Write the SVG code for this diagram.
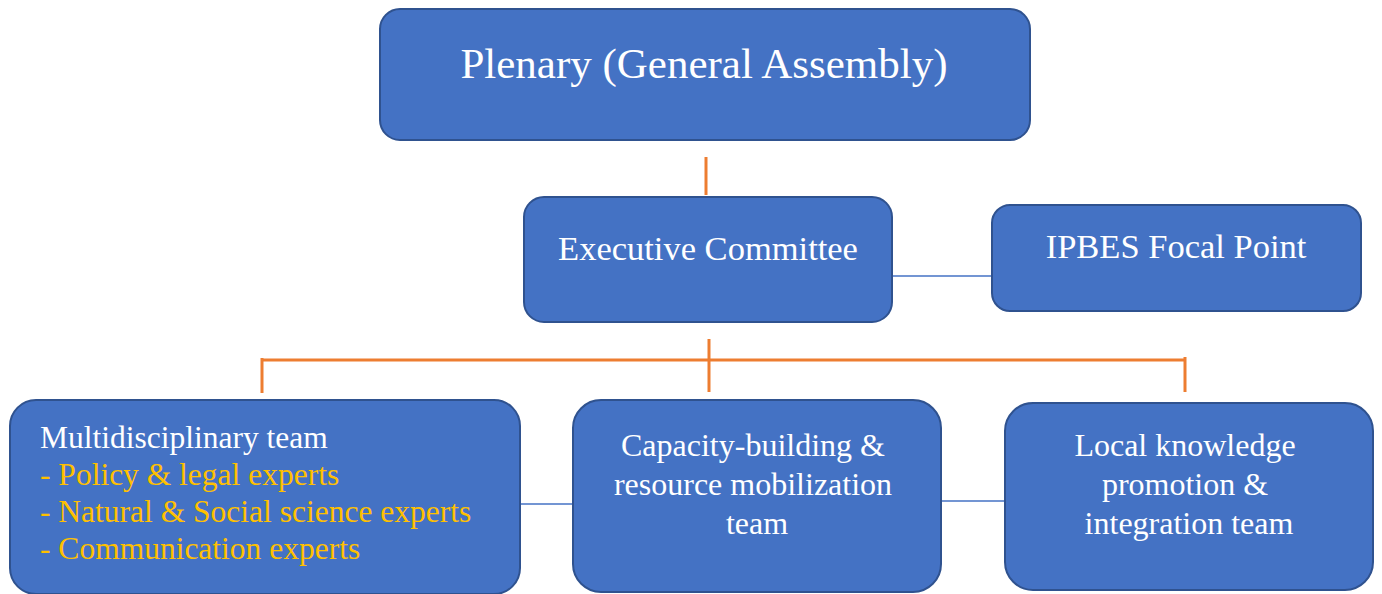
<svg xmlns="http://www.w3.org/2000/svg" width="1382" height="594" viewBox="0 0 1382 594">
<style>
.box{fill:#4472C4;stroke:#2F528F;stroke-width:2}
.t{font-family:"Liberation Serif","Times New Roman",serif;fill:#FFFFFF}
.y{fill:#FFC000}
.or{stroke:#ED7D31;stroke-width:3;fill:none}
.bl{stroke:#4472C4;stroke-width:1.3;fill:none}
</style>
<rect width="1382" height="594" fill="#FFFFFF"/>
<g id="connectors">
<line class="or" x1="706" y1="157" x2="706" y2="195"/>
<line class="or" x1="709" y1="339" x2="709" y2="392"/>
<line class="or" x1="262" y1="360" x2="1185" y2="360"/>
<line class="or" x1="262" y1="358" x2="262" y2="393"/>
<line class="or" x1="1185" y1="357" x2="1185" y2="392"/>
<line class="bl" x1="892" y1="276" x2="992" y2="276"/>
<line class="bl" x1="520" y1="504" x2="573" y2="504"/>
<line class="bl" x1="941" y1="501" x2="1005" y2="501"/>
</g>
<g id="plenary">
<rect class="box" x="380" y="9" width="650" height="131" rx="20"/>
<text class="t" x="704" y="78" font-size="43" text-anchor="middle">Plenary (General Assembly)</text>
</g>
<g id="executive">
<rect class="box" x="524" y="197" width="368" height="125" rx="20"/>
<text class="t" x="708" y="260" font-size="34.5" text-anchor="middle">Executive Committee</text>
</g>
<g id="focal">
<rect class="box" x="992" y="205" width="369" height="106" rx="18"/>
<text class="t" x="1176" y="258" font-size="34.5" text-anchor="middle">IPBES Focal Point</text>
</g>
<g id="multi">
<rect class="box" x="10" y="400" width="510" height="194" rx="26"/>
<text class="t" font-size="31.5">
<tspan x="40" y="448">Multidisciplinary team</tspan>
<tspan class="y" x="40" y="485">- Policy &amp; legal experts</tspan>
<tspan class="y" x="40" y="522">- Natural &amp; Social science experts</tspan>
<tspan class="y" x="40" y="559">- Communication experts</tspan>
</text>
</g>
<g id="capacity">
<rect class="box" x="573" y="400" width="368" height="192" rx="28"/>
<text class="t" font-size="32" text-anchor="middle">
<tspan x="757" y="456">Capacity-building &amp;</tspan>
<tspan x="757" y="495">resource mobilization</tspan>
<tspan x="757" y="534">team</tspan>
</text>
</g>
<g id="local">
<rect class="box" x="1005" y="403" width="368" height="187" rx="28"/>
<text class="t" font-size="32" text-anchor="middle">
<tspan x="1189" y="456">Local knowledge</tspan>
<tspan x="1189" y="495">promotion &amp;</tspan>
<tspan x="1189" y="534">integration team</tspan>
</text>
</g>
</svg>
